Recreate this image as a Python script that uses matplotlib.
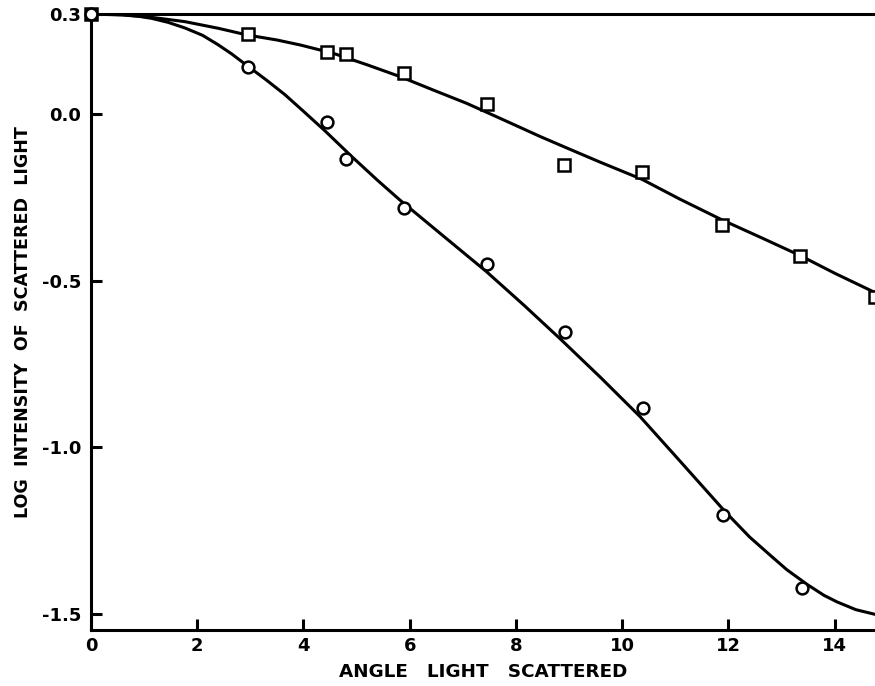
import matplotlib
matplotlib.use("Agg")
import matplotlib.pyplot as plt

# Measured data points
sq_x = [0.0, 2.95, 4.45, 4.8, 5.9, 7.45, 8.9, 10.37, 11.88, 13.35, 14.76]
sq_y = [0.30, 0.24, 0.186, 0.18, 0.123, 0.03, -0.153, -0.174, -0.334, -0.427, -0.55]

ci_x = [0.0, 2.95, 4.45, 4.8, 5.9, 7.46, 8.93, 10.4, 11.9, 13.39]
ci_y = [0.30, 0.141, -0.024, -0.135, -0.283, -0.45, -0.655, -0.883, -1.204, -1.424]

# Fitted curves
up_x = [0.0, 0.6, 1.14, 1.77, 2.4, 2.94, 3.5, 3.94, 4.56, 5.19, 5.82, 6.44, 7.07,
        7.7, 8.46, 9.0, 9.59, 10.37, 11.09, 11.88, 12.6, 13.35, 14.0, 14.76]
up_y = [0.300, 0.298, 0.290, 0.277, 0.257, 0.237, 0.222, 0.207, 0.182, 0.148, 0.112, 0.072, 0.032,
        -0.013, -0.068, -0.105, -0.145, -0.196, -0.256, -0.318, -0.370, -0.425, -0.478, -0.536]

lo_x = [0.0, 0.6, 0.9, 1.14, 1.45, 1.77, 2.1, 2.39, 2.65, 2.94, 3.3, 3.65, 4.0, 4.4, 4.91, 5.4, 5.82,
        6.6, 7.45, 8.15, 8.86, 9.6, 10.34, 11.1, 11.94, 12.4, 12.79, 13.1, 13.48, 13.8, 14.05, 14.4, 14.76]
lo_y = [0.300, 0.297, 0.293, 0.287, 0.275, 0.258, 0.236, 0.208, 0.180, 0.145, 0.102, 0.058, 0.008, -0.050,
        -0.128, -0.200, -0.259, -0.362, -0.474, -0.574, -0.679, -0.792, -0.909, -1.044, -1.194, -1.270,
        -1.325, -1.368, -1.412, -1.445, -1.465, -1.488, -1.502]

xticks = [0, 2, 4, 6, 8, 10, 12, 14]
yticks = [0.3, 0.0, -0.5, -1.0, -1.5]
ytick_labels = ["0.3", "0.0", "-0.5", "-1.0", "-1.5"]

fig = plt.figure(figsize=(8.75, 6.86), dpi=100)
ax = fig.add_axes([91/875, 1 - 630/686, 1 - 91/875, (630 - 14)/686])

lw = 2.2
ax.plot(up_x, up_y, color="black", lw=lw, solid_joinstyle="round")
ax.plot(lo_x, lo_y, color="black", lw=lw, solid_joinstyle="round")
ax.plot(sq_x, sq_y, ls="none", marker="s", ms=8.5, mfc="white", mec="black", mew=1.8, clip_on=False, zorder=5)
ax.plot(ci_x, ci_y, ls="none", marker="o", ms=8.5, mfc="white", mec="black", mew=1.8, clip_on=False, zorder=5)

ax.set_xlim(0, 14.76)
ax.set_ylim(-1.549, 0.3)

for s in ["left", "bottom", "top"]:
    ax.spines[s].set_linewidth(2.2)
ax.spines["right"].set_visible(False)

ax.set_xticks(xticks)
ax.set_xticklabels([str(t) for t in xticks])
ax.set_yticks(yticks)
ax.set_yticklabels(ytick_labels)
ax.tick_params(axis="both", direction="in", length=8, width=2.2, labelsize=13)
ax.tick_params(axis="x", pad=5)
ax.tick_params(axis="y", pad=7)
for lab in ax.get_xticklabels() + ax.get_yticklabels():
    lab.set_fontweight("bold")

ax.set_xlabel("ANGLE   LIGHT   SCATTERED", fontsize=13.2, fontweight="bold", labelpad=6)
ax.set_ylabel("LOG  INTENSITY  OF  SCATTERED  LIGHT", fontsize=12.6, fontweight="bold", labelpad=7)

fig.savefig("out.png", dpi=100)
